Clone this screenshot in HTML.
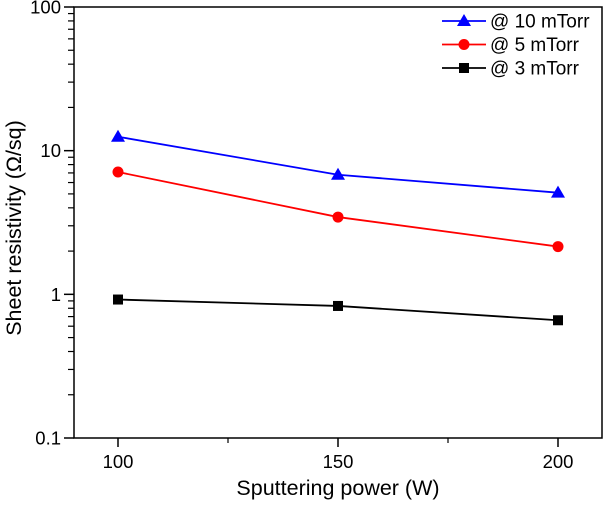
<!DOCTYPE html>
<html><head><meta charset="utf-8"><style>body{margin:0;background:#fff}svg{display:block;font-family:"Liberation Sans",Arial,sans-serif}</style></head>
<body>
<svg id="chart" width="605" height="505" viewBox="0 0 605 505" xmlns="http://www.w3.org/2000/svg"></svg>
<script>
const powers = [100, 150, 200];
const series10 = [12.5, 6.8, 5.1];
const series5 = [7.1, 3.45, 2.15];
const series3 = [0.92, 0.83, 0.66];
const xTicks = [100, 150, 200];
const xMinorTicks = [125, 175];
const yTicks = [0.1, 1, 10, 100];
const yTickLabels = ['0.1', '1', '10', '100'];
const legendLabels = ['@ 10 mTorr', '@ 5 mTorr', '@ 3 mTorr'];

const L = 74, R = 602, T = 7, B = 438;
const xmin = 90, xmax = 210;
function X(v) { return L + (v - xmin) / (xmax - xmin) * (R - L); }
function Y(v) { return B - (Math.log10(v) + 1) / 3 * (B - T); }
const svg = document.getElementById('chart');
const NS = 'http://www.w3.org/2000/svg';
function mk(tag, attrs, parent) {
  const e = document.createElementNS(NS, tag);
  for (const k in attrs) e.setAttribute(k, attrs[k]);
  (parent || svg).appendChild(e);
  return e;
}

const frame = mk('rect', {x: L, y: T, width: R - L, height: B - T, fill: 'none', stroke: '#000', 'stroke-width': 1.5});



yTicks.forEach((v, i) => {
  const t = mk('line', {x1: L - 10, x2: L, y1: Y(v), y2: Y(v), stroke: '#000', 'stroke-width': 1.5});
  
  
  const lb = mk('text', {x: L - 13, y: Y(v) + 6.5, 'text-anchor': 'end', 'font-size': 18.5});
  lb.textContent = yTickLabels[i];
  
  
  if (i < yTicks.length - 1) {
    for (let m = 2; m <= 9; m++) {
      const mt = mk('line', {x1: L - 6, x2: L, y1: Y(v * m), y2: Y(v * m), stroke: '#000', 'stroke-width': 1.2});
      
      
    }
  }
});
xTicks.forEach(v => {
  const t = mk('line', {x1: X(v), x2: X(v), y1: B, y2: B + 9, stroke: '#000', 'stroke-width': 1.5});
  
  
  const lb = mk('text', {x: X(v), y: B + 30, 'text-anchor': 'middle', 'font-size': 18.5});
  lb.textContent = v;
  
  
});
xMinorTicks.forEach(v => {
  const t = mk('line', {x1: X(v), x2: X(v), y1: B, y2: B + 5, stroke: '#000', 'stroke-width': 1.2});
  
  
});

const xt = mk('text', {x: X(150), y: 495, 'text-anchor': 'middle', 'font-size': 21.5});
xt.textContent = 'Sputtering power (W)';


const yt = mk('text', {x: 0, y: 0, 'text-anchor': 'middle', 'font-size': 21.5, transform: 'translate(21,228) rotate(-90)'});
yt.textContent = 'Sheet resistivity (Ω/sq)';



function marker(type, x, y, color, g) {
  if (type === 'tri') return mk('polygon', {points: `${x},${y - 7} ${x - 7},${y + 5} ${x + 7},${y + 5}`, fill: color}, g);
  if (type === 'circ') return mk('circle', {cx: x, cy: y, r: 5.5, fill: color}, g);
  return mk('rect', {x: x - 5, y: y - 5, width: 10, height: 10, fill: color}, g);
}
const allSeries = [[series10, '#0000ff', 'tri', 'series-10-mtorr'], [series5, '#ff0000', 'circ', 'series-5-mtorr'], [series3, '#000000', 'sq', 'series-3-mtorr']];
allSeries.forEach(([vals, color, type, name], si) => {
  const g = mk('g', {});
  
  
  const pl = mk('polyline', {points: vals.map((v, i) => X(powers[i]) + ',' + Y(v)).join(' '), fill: 'none', stroke: color, 'stroke-width': 1.8}, g);
  
  
  vals.forEach((v, i) => {
    const m = marker(type, X(powers[i]), Y(v), color, g);
    
    
  });
  const ly = 21 + si * 23.5;
  const lg = mk('g', {});
  
  
  mk('line', {x1: 442, x2: 486, y1: ly, y2: ly, stroke: color, 'stroke-width': 1.8}, lg);
  marker(type, 464, ly, color, lg);
  const lt = mk('text', {x: 490, y: ly + 6.5, 'font-size': 19}, lg);
  lt.textContent = legendLabels[si];
});
</script>
</body></html>
